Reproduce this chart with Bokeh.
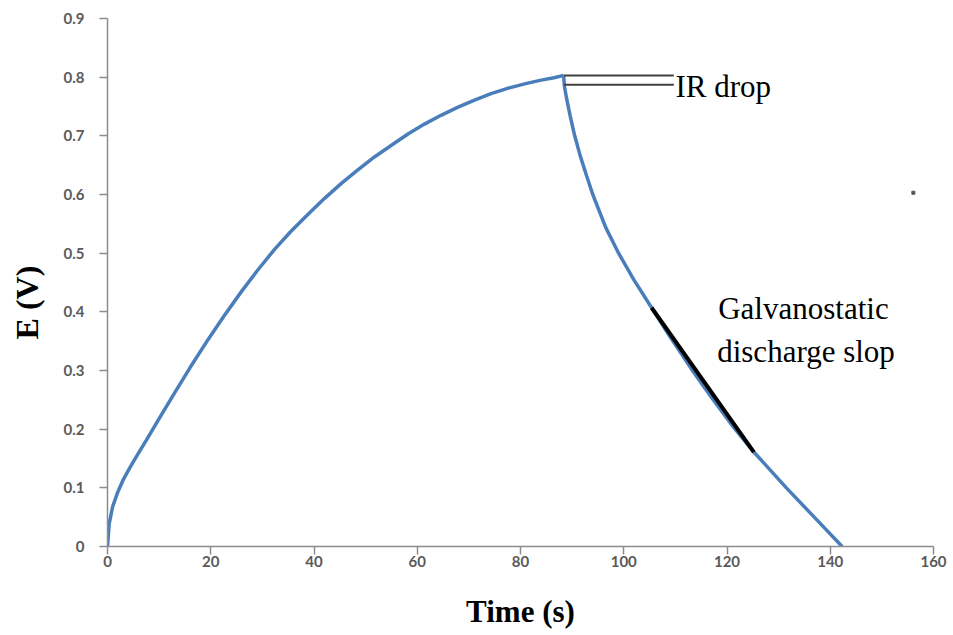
from bokeh.plotting import figure
from bokeh.models import Range1d, Label, FixedTicker
from bokeh.embed import file_html
from bokeh.resources import INLINE

# ---- data ----
charge_t = [0, 0.33, 1, 2, 3, 4.5, 6, 7.5, 10, 13, 16, 19.5, 22.5, 25.9,
            29, 32.4, 35.5, 38.8, 42, 45.3, 48.5, 51.7, 55, 58.2, 61.4, 64.6,
            67.9, 71.1, 74.3, 77.5, 81, 84, 86.5, 88.35]
charge_E = [0, 0.039, 0.068, 0.093, 0.113, 0.137, 0.159, 0.181, 0.218,
            0.262, 0.305, 0.353, 0.392, 0.434, 0.47, 0.507, 0.537, 0.566,
            0.593, 0.619, 0.642, 0.664, 0.684, 0.703, 0.72, 0.735, 0.749,
            0.761, 0.772, 0.781, 0.789, 0.795, 0.799, 0.803]

discharge_t = [88.35, 88.5, 88.9, 89.6, 90.5, 91.6, 92.8, 94.0, 96.5, 99.0,
               102.0, 105.4, 109.0, 113.0, 117.0, 121.3, 125.2, 128.3, 131.5,
               136.9, 142.3]
discharge_E = [0.803, 0.785, 0.765, 0.735, 0.70, 0.665, 0.632, 0.60, 0.544,
               0.50, 0.454, 0.407, 0.357, 0.304, 0.254, 0.203, 0.161, 0.131,
               0.10, 0.05, 0.0]

slope_t = [105.4, 125.2]
slope_E = [0.407, 0.161]

ir_t = [88.4, 109.7]
ir_top_E = [0.803, 0.803]
ir_bot_E = [0.787, 0.787]

stray_t = [156.1]
stray_E = [0.603]

x_ticks = [0, 20, 40, 60, 80, 100, 120, 140, 160]
y_ticks = [0, 0.1, 0.2, 0.3, 0.4, 0.5, 0.6, 0.7, 0.8, 0.9]

NBSP = "\u00a0"

# ---- figure ----
p = figure(width=950, height=635, output_backend="svg", toolbar_location=None,
           x_range=Range1d(0, 160), y_range=Range1d(0, 0.9),
           min_border_left=107, min_border_right=17, min_border_top=18,
           min_border_bottom=89)
p.outline_line_color = None
p.xgrid.visible = False
p.ygrid.visible = False
p.background_fill_color = "white"
p.border_fill_color = "white"

axis_col = "#8c8c8c"
for ax in (p.xaxis[0], p.yaxis[0]):
    ax.axis_line_color = axis_col
    ax.axis_line_width = 1.5
    ax.major_tick_line_color = axis_col
    ax.major_tick_line_width = 1.5
    ax.major_tick_in = 0
    ax.major_tick_out = 8
    ax.minor_tick_line_color = None
    ax.major_label_text_font = "Lato"
    ax.major_label_text_font_size = "15px"
    ax.major_label_text_font_style = "bold"
    ax.major_label_text_color = "#5a5a5a"
    ax.axis_label_text_font = "Liberation Serif"
    ax.axis_label_text_font_style = "bold"
    ax.axis_label_text_color = "black"

p.xaxis[0].ticker = FixedTicker(ticks=x_ticks)
p.yaxis[0].ticker = FixedTicker(ticks=y_ticks)
p.xaxis[0].major_label_standoff = 1
p.yaxis[0].major_label_standoff = 15
p.yaxis[0].major_label_overrides = {0: "0"}

p.xaxis[0].axis_label = "Time (s)"
p.xaxis[0].axis_label_text_font_size = "31px"
p.xaxis[0].axis_label_standoff = 24

p.yaxis[0].axis_label = "E (V)" + NBSP * 5
p.yaxis[0].axis_label_text_font_size = "32px"
p.yaxis[0].axis_label_standoff = 16

blue = "#4a7ebb"
p.line(charge_t, charge_E, line_color=blue, line_width=3.5)
p.line(discharge_t, discharge_E, line_color=blue, line_width=3.5)
p.line(slope_t, slope_E, line_color="black", line_width=4)
p.line(ir_t, ir_top_E, line_color="#404040", line_width=2)
p.line(ir_t, ir_bot_E, line_color="#404040", line_width=2)
p.scatter(stray_t, stray_E, size=3, color="#555555", marker="square")

serif = "Liberation Serif"
p.add_layout(Label(x=110.0, y=0.784, text="IR drop", text_font=serif,
                   text_font_size="31px", text_color="black",
                   text_baseline="alphabetic", text_align="left"))
p.add_layout(Label(x=118.3, y=0.406, text="Galvanostatic", text_font=serif,
                   text_font_size="31px", text_color="black",
                   text_baseline="alphabetic", text_align="left"))
p.add_layout(Label(x=118.1, y=0.332, text="discharge slop", text_font=serif,
                   text_font_size="31px", text_color="black",
                   text_baseline="alphabetic", text_align="left"))

open("out.html", "w").write(file_html(p, INLINE))
